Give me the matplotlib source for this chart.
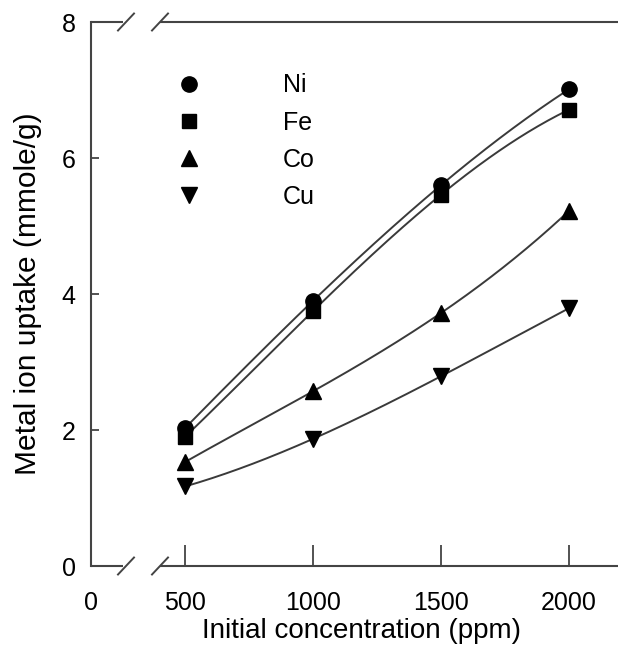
import numpy as np
import matplotlib
matplotlib.use("Agg")
import matplotlib.pyplot as plt
from matplotlib.lines import Line2D

plt.rcParams["font.family"] = ["Liberation Sans", "DejaVu Sans"]

# Initial metal ion concentration (ppm) and uptake (mmole/g)
concentration = [500, 1000, 1500, 2000]
metals = ["Ni", "Fe", "Co", "Cu"]
uptake_ni = [2.03, 3.90, 5.60, 7.01]
uptake_fe = [1.90, 3.75, 5.46, 6.71]
uptake_co = [1.53, 2.57, 3.72, 5.22]
uptake_cu = [1.17, 1.87, 2.79, 3.79]
markers = ["o", "s", "^", "v"]
marker_sizes = [11, 10, 11.5, 11.5]

x_ticks = [0, 500, 1000, 1500, 2000]
y_ticks = [0, 2, 4, 6, 8]

# compressed region between 0 and 500 (broken axis)
BREAK_AT = 500.0
ZERO_POS = 132.0


def fwd(x):
    x = np.asarray(x, dtype=float)
    return np.where(x >= BREAK_AT, x, ZERO_POS + x * (BREAK_AT - ZERO_POS) / BREAK_AT)


def inv(x):
    x = np.asarray(x, dtype=float)
    return np.where(x >= BREAK_AT, x, (x - ZERO_POS) * BREAK_AT / (BREAK_AT - ZERO_POS))


fig = plt.figure(figsize=(6.18, 6.46), dpi=100)
ax = fig.add_axes([91 / 618, 80 / 646, 540 / 618, 544 / 646])
ax.set_xscale("function", functions=(fwd, inv))
ax.set_xlim(0, 2243)
ax.set_ylim(0, 8)

line_color = "#3a3a3a"
series = [uptake_ni, uptake_fe, uptake_co, uptake_cu]
xs = np.array(concentration, dtype=float)
xx = np.linspace(xs.min(), xs.max(), 200)
for vals, m, ms in zip(series, markers, marker_sizes):
    coeffs = np.polyfit(xs, vals, 3)
    ax.plot(xx, np.polyval(coeffs, xx), color=line_color, lw=1.4, zorder=2)
    ax.plot(xs, vals, linestyle="none", marker=m, color="black",
            markersize=ms, zorder=3)

# spines: left/right solid, top/bottom with break marks
spine_color = "#444444"
for s in ["left", "right"]:
    ax.spines[s].set_color(spine_color)
    ax.spines[s].set_linewidth(1.5)
ax.spines["top"].set_visible(False)
ax.spines["bottom"].set_visible(False)

w_px, h_px = 540.0, 544.0
b1, b2 = (126 - 91) / w_px, (160 - 91) / w_px
dx, dy = 8 / w_px, 8.5 / h_px
for yy in (0.0, 1.0):
    ax.plot([0, b1 - 0.006], [yy, yy], transform=ax.transAxes, color=spine_color,
            lw=1.5, clip_on=False, solid_capstyle="butt")
    ax.plot([b2, 1.0], [yy, yy], transform=ax.transAxes, color=spine_color,
            lw=1.5, clip_on=False, solid_capstyle="butt")
    for b in (b1, b2):
        ax.plot([b - dx, b + dx], [yy - dy, yy + dy], transform=ax.transAxes,
                color=spine_color, lw=1.4, clip_on=False)

ax.set_xticks(x_ticks)
ax.set_xticklabels([str(t) for t in x_ticks])
ax.set_yticks(y_ticks)
ax.set_yticklabels([str(t) for t in y_ticks])
ax.tick_params(axis="x", direction="in", length=15, width=1.3, color=spine_color,
               labelsize=18, pad=18)
ax.tick_params(axis="y", direction="in", length=6, width=1.3, color=spine_color,
               labelsize=18, pad=11)
ax.tick_params(top=False, right=False)

ax.set_xlabel("Initial concentration (ppm)", fontsize=20, labelpad=2)
ax.set_ylabel("Metal ion uptake (mmole/g)", fontsize=21.5, labelpad=14)

handles = [Line2D([], [], linestyle="none", marker=m, color="black", markersize=ms)
           for m, ms in zip(markers, marker_sizes)]
ax.legend(handles, metals, loc="upper left", bbox_to_anchor=(0.14, 0.924),
          frameon=False, fontsize=18, handlelength=1.0, handletextpad=3.26,
          labelspacing=0.53, borderaxespad=0)

fig.savefig("out.png", dpi=100)
